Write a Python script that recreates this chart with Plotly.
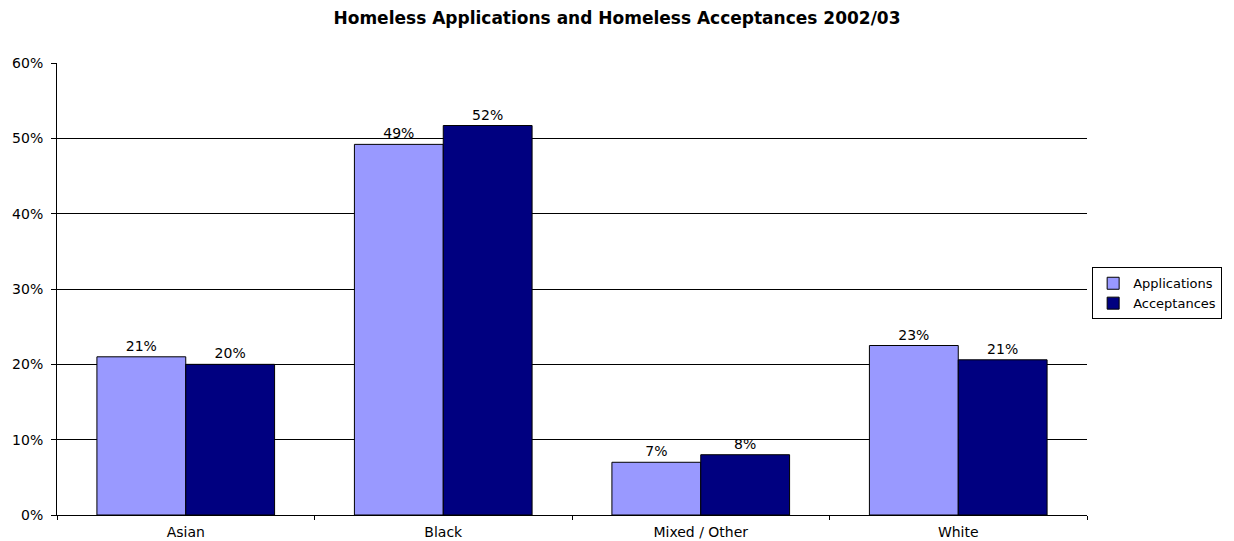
import plotly.graph_objects as go

# Ethnic group categories and the share (%) of each series
categories = ["Asian", "Black", "Mixed / Other", "White"]
applications = [21.0, 49.2, 7.0, 22.5]
acceptances = [20.0, 51.7, 8.0, 20.6]

series_names = ["Applications", "Acceptances"]
series_colors = ["#9999FF", "#000080"]

y_ticks = [0, 10, 20, 30, 40, 50, 60]
title_text = "Homeless Applications and Homeless Acceptances 2002/03"

FONT = "DejaVu Sans, Arial, sans-serif"

fig = go.Figure()
for name, vals, color in zip(series_names, [applications, acceptances], series_colors):
    fig.add_trace(go.Bar(
        x=categories,
        y=vals,
        name=name,
        marker=dict(color=color, line=dict(color="#000000", width=1)),
        texttemplate="%{y:.0f}%",
        textposition="outside",
        textfont=dict(family=FONT, size=14, color="#000000"),
        cliponaxis=False,
    ))

fig.update_layout(
    width=1234,
    height=541,
    margin=dict(l=57, r=147, t=63, b=26, autoexpand=False),
    paper_bgcolor="#FFFFFF",
    plot_bgcolor="#FFFFFF",
    barmode="group",
    bargap=0.31,
    bargroupgap=0,
    font=dict(family=FONT, size=14, color="#000000"),
    title=dict(
        text=f"<b>{title_text}</b>",
        font=dict(family=FONT, size=17, color="#000000"),
        x=0.5, xref="container", xanchor="center",
        y=1 - 18 / 541, yref="container", yanchor="middle",
    ),
    legend=dict(
        x=1.005, y=0.548, xanchor="left", yanchor="top",
        bordercolor="#000000", borderwidth=1,
        bgcolor="#FFFFFF",
        font=dict(family=FONT, size=13, color="#000000"),
        itemwidth=30,
        tracegroupgap=0,
    ),
    xaxis=dict(
        type="category",
        showline=True, linecolor="#000000", linewidth=1,
        ticks="outside", tickson="boundaries", ticklen=4, tickcolor="#000000",
        ticklabelstandoff=4,
        showgrid=False,
        tickfont=dict(family=FONT, size=14, color="#000000"),
    ),
    yaxis=dict(
        range=[0, 60],
        tickvals=y_ticks,
        ticktext=[f"{v}%" for v in y_ticks],
        showline=True, linecolor="#000000", linewidth=1,
        ticks="outside", ticklen=5, tickcolor="#000000",
        ticklabelstandoff=5,
        showgrid=True, gridcolor="#000000", gridwidth=1,
        zeroline=False,
        tickfont=dict(family=FONT, size=14, color="#000000"),
    ),
)

fig.write_html("out.html")
